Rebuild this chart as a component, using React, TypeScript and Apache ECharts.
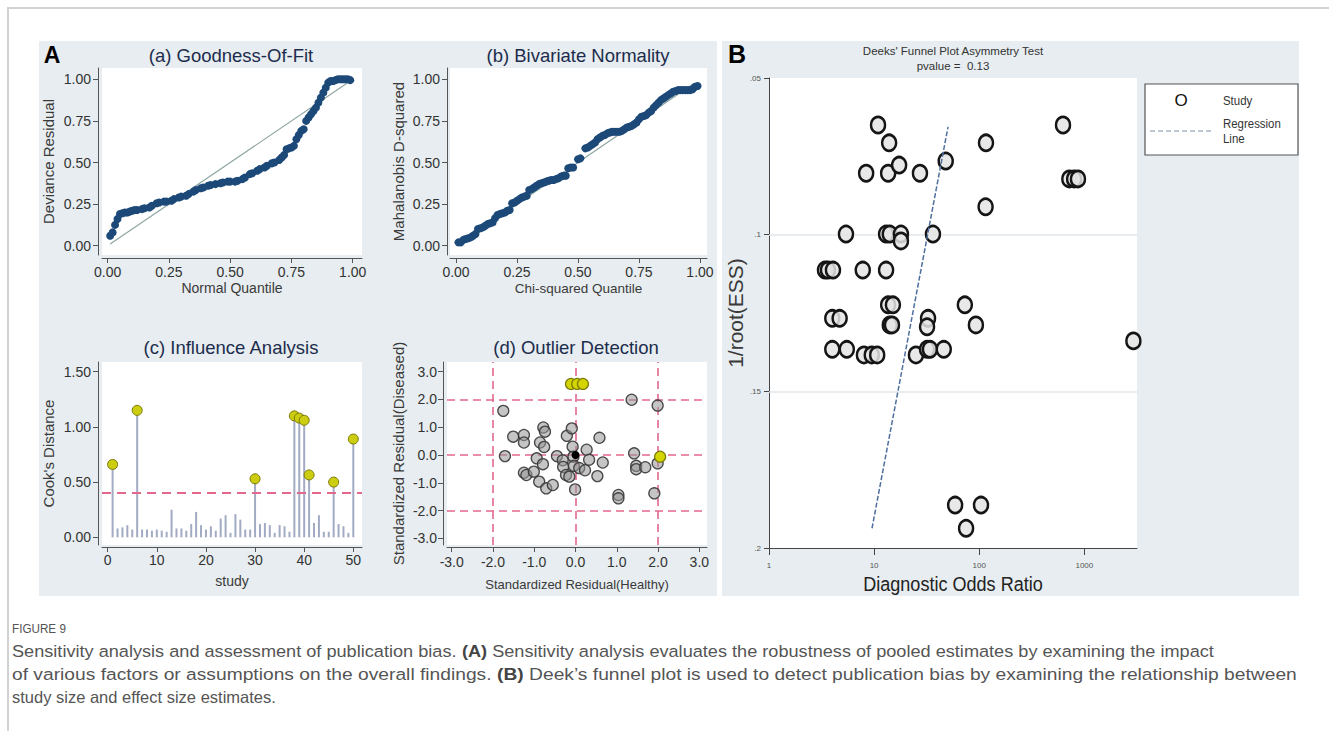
import React, { useEffect, useRef } from "react";
import * as echarts from "echarts";

// ---------- (a) Goodness-Of-Fit ----------
const gofQuantile = [0.01,0.02,0.03,0.04,0.05,0.06,0.07,0.08,0.09,0.10,0.11,0.12,
  0.14,0.15,0.17,0.18,0.20,0.21,0.23,0.24,0.26,0.27,0.29,0.30,0.32,0.33,0.35,0.36,0.38,0.39,0.41,0.42,0.44,
  0.46,0.47,0.49,0.50,0.52,0.53,0.55,0.56,0.58,0.59,0.61,0.62,0.64,0.65,0.67,0.68,0.70,
  0.71,0.72,0.73,0.74,0.75,0.76,0.77,0.78,0.79,0.80,0.81,0.82,0.83,0.84,0.85,0.86,0.87,0.88,0.89,0.90,0.91,0.92,0.93,0.94,0.95,0.96,0.97,0.98,0.99];
const gofResidual = [0.06,0.08,0.125,0.16,0.19,0.195,0.20,0.20,0.205,0.21,0.215,0.215,
  0.22,0.225,0.23,0.24,0.255,0.26,0.265,0.265,0.27,0.28,0.29,0.295,0.30,0.31,0.325,0.335,0.345,0.35,0.36,0.365,0.37,
  0.375,0.38,0.385,0.385,0.385,0.39,0.40,0.41,0.43,0.435,0.45,0.46,0.47,0.48,0.495,0.50,0.515,
  0.53,0.545,0.58,0.585,0.59,0.60,0.64,0.665,0.69,0.70,0.75,0.77,0.79,0.81,0.83,0.86,0.89,0.92,0.95,0.98,0.99,0.99,0.995,1.0,1.0,1.0,1.0,1.0,0.995];
const gofRefLine = [[0.01, 0.01], [0.99, 0.99]];

// ---------- (b) Bivariate Normality ----------
const chiQuantile = [0.01,0.02,0.03,0.04,0.05,0.06,0.07,0.08,0.09,0.10,0.11,0.12,0.13,0.14,0.15,0.16,0.17,0.18,0.19,0.20,
  0.21,0.22,0.23,0.24,0.25,0.26,0.27,0.28,0.29,0.30,0.31,0.32,0.33,0.34,0.35,0.36,0.37,0.38,0.39,0.40,
  0.41,0.42,0.43,0.44,0.45,0.46,0.47,0.48,0.50,0.51,0.53,0.54,0.55,0.56,0.57,0.58,0.59,0.60,0.61,0.62,
  0.63,0.64,0.65,0.66,0.67,0.68,0.69,0.70,0.71,0.72,0.73,0.74,0.75,0.76,0.77,0.78,0.79,0.80,0.81,0.82,
  0.83,0.84,0.85,0.86,0.87,0.88,0.89,0.90,0.91,0.92,0.93,0.94,0.95,0.96,0.97,0.98,0.99];
const mahalanobis = [0.02,0.02,0.035,0.04,0.045,0.05,0.06,0.07,0.10,0.105,0.11,0.12,0.13,0.135,0.14,0.165,0.185,0.19,0.195,0.20,
  0.21,0.215,0.255,0.26,0.27,0.28,0.29,0.295,0.30,0.335,0.34,0.35,0.36,0.37,0.375,0.38,0.385,0.39,0.395,0.395,
  0.40,0.405,0.415,0.42,0.42,0.465,0.47,0.47,0.52,0.525,0.585,0.59,0.60,0.61,0.62,0.64,0.65,0.66,0.665,0.675,
  0.68,0.685,0.685,0.685,0.685,0.69,0.70,0.71,0.715,0.72,0.73,0.74,0.76,0.775,0.78,0.785,0.80,0.81,0.83,0.845,
  0.86,0.875,0.885,0.895,0.905,0.915,0.925,0.93,0.935,0.935,0.935,0.935,0.935,0.935,0.94,0.955,0.96];
const bvnRefLine = [[0.0, 0.0], [0.97, 0.97]];

// ---------- (c) Influence Analysis ----------
const cooksDistance = [0.66,0.08,0.09,0.11,0.07,1.15,0.07,0.07,0.06,0.07,
  0.06,0.05,0.25,0.08,0.08,0.06,0.12,0.23,0.11,0.07,
  0.10,0.06,0.17,0.20,0.04,0.21,0.16,0.07,0.07,0.53,
  0.12,0.13,0.11,0.04,0.11,0.10,0.05,1.10,1.08,1.06,
  0.565,0.13,0.20,0.05,0.05,0.50,0.12,0.10,0.04,0.89];
const cooksThreshold = 0.4;

// ---------- (d) Outlier Detection ----------
const residHealthy = [-1.75,-1.71,-1.51,-1.25,-1.25,-1.25,-1.19,-1.01,-0.94,-0.86,
  -0.78,-0.74,-0.76,-0.79,-0.88,-0.71,-0.55,-0.45,-0.31,-0.30,
  -0.23,-0.15,-0.21,-0.09,-0.07,-0.05,-0.04,-0.01,0.09,0.23,
  0.27,0.33,0.58,0.66,0.53,1.04,1.04,1.36,1.42,1.47,
  1.47,1.69,1.91,1.99,1.99,-0.11,0.04,0.18,2.05];
const residDiseased = [1.59,-0.04,0.66,0.72,0.45,-0.64,-0.72,-0.60,-0.12,0.45,
  0.99,0.84,0.29,-0.33,-0.96,-1.20,-1.08,-0.04,-0.19,-0.43,
  -0.72,-0.78,0.69,0.96,0.30,-0.06,-0.39,-1.24,-0.47,-0.55,
  0.19,-0.17,0.62,-0.27,-0.76,-1.44,-1.56,1.99,0.06,-0.39,
  -0.51,-0.44,-1.38,1.78,-0.30,2.56,2.56,2.56,-0.06];
const summaryPoint = [0.0, 0.0];
const residCutoffs = [-2, 0, 2];

// ---------- B Deeks' funnel plot ----------
const diagnosticOddsRatio = [10.9,13.9,116,8.4,13.6,17.3,27.3,48,627,720,
  800,870,115,5.4,13.0,14.1,18.0,18.0,36.3,3.41,
  3.64,4.06,7.8,13.0,13.6,15.1,73,4.0,4.7,14.1,
  14.8,32.6,31.9,93,4.0,5.5,8.0,9.5,10.7,25,
  31.9,34.0,46,2930,59,104,75];
const invRootEss = [0.065,0.0707,0.0707,0.0804,0.0804,0.0778,0.0804,0.0765,0.065,0.0822,
  0.0822,0.0822,0.0911,0.0998,0.0998,0.0998,0.0998,0.102,0.0998,0.1113,
  0.1113,0.1113,0.1113,0.1113,0.1224,0.1224,0.1224,0.1267,0.1267,0.1288,
  0.1288,0.1267,0.1294,0.1288,0.1366,0.1366,0.1384,0.1384,0.1384,0.1384,
  0.1366,0.1366,0.1366,0.1339,0.1863,0.1863,0.1937];
const regressionDOR = [9.55, 50.5];
const regressionEss = [0.1937, 0.0656];
const deeksGridValues = [0.1, 0.15];

const ticks01 = [0, 0.25, 0.5, 0.75, 1];
const ticksCook = [0, 0.5, 1, 1.5];
const ticksStudy = [0, 10, 20, 30, 40, 50];
const ticksResid = [-3, -2, -1, 0, 1, 2, 3];
const ticksDOR = [1, 10, 100, 1000];
const ticksEss = [0.05, 0.1, 0.15, 0.2];

const FONT = "'Liberation Sans', Arial, Helvetica, sans-serif";
const AXIS_COLOR = "#555";

function valAxis(o: any) {
  return {
    type: o.type || "value",
    gridIndex: o.grid,
    min: o.min,
    max: o.max,
    inverse: !!o.inverse,
    offset: o.offset || 0,
    splitLine: { show: false },
    axisLine: { show: true, onZero: false, lineStyle: { color: o.lineColor || AXIS_COLOR, width: 1 } },
    axisTick: { show: true, inside: false, length: o.tickLen || 5, customValues: o.ticks, lineStyle: { color: o.lineColor || AXIS_COLOR } },
    axisLabel: {
      show: true,
      customValues: o.ticks,
      formatter: o.fmt,
      margin: o.margin ?? 7,
      fontSize: o.labelSize || 14,
      color: o.labelColor || "#333",
      fontFamily: FONT,
    },
    name: o.name,
    nameLocation: "middle",
    nameGap: o.nameGap,
    nameTextStyle: { fontSize: o.nameSize || 14, color: "#3a3a3a", fontFamily: FONT },
  };
}

function gridBox(left: number, top: number, width: number, height: number) {
  return { left, top, width, height, show: true, backgroundColor: "#ffffff", borderWidth: 0, containLabel: false, outerBoundsMode: "none" };
}

function txt(text: string, x: number, y: number, size: number, opts: any = {}) {
  const align = opts.align || "center";
  const valign = opts.valign || "middle";
  return {
    type: "text",
    x, y,
    scaleX: opts.scaleX || 1,
    silent: true,
    style: {
      text,
      fill: opts.color || "#1c2c4c",
      fontSize: size,
      fontFamily: FONT,
      fontWeight: opts.weight || "normal",
      align, verticalAlign: valign,
      textAlign: align, textVerticalAlign: valign,
      rich: opts.rich,
    },
  };
}

const f2 = (v: number) => v.toFixed(2);
const f1 = (v: number) => v.toFixed(1);
const fDot = (v: number) => String(v).replace(/^0\./, ".");

const pinkDash = { color: "#e2688c", type: [8, 5], width: 1.6 };

function buildOption() {
  const gofPts = gofQuantile.map((x, i) => [x, gofResidual[i]]);
  const bvnPts = chiQuantile.map((x, i) => [x, mahalanobis[i]]);
  const cookBars = cooksDistance.map((v, i) => [i + 1, v]);
  const cookHigh = cooksDistance.map((v, i) => [i + 1, v]).filter((p) => p[1] > cooksThreshold);
  const outPts = residHealthy.map((x, i) => [x, residDiseased[i]]);
  const outNormal = outPts.filter((p) => Math.abs(p[0]) <= 2 && Math.abs(p[1]) <= 2);
  const outFlag = outPts.filter((p) => Math.abs(p[0]) > 2 || Math.abs(p[1]) > 2);
  const deeksPts = diagnosticOddsRatio.map((x, i) => [x, invRootEss[i]]);
  const regPts = regressionDOR.map((x, i) => [x, regressionEss[i]]);

  const captionRich = { b: { fontWeight: "bold", fontSize: 16.5, fontFamily: FONT, fill: "#444" } };
  const cap = (s: number) => ({ align: "left", color: "#555", rich: captionRich, scaleX: s });

  return {
    animation: false,
    backgroundColor: "transparent",
    grid: [
      gridBox(102, 68, 260, 187),
      gridBox(450, 68, 257, 187),
      gridBox(102, 362, 260, 183),
      gridBox(447, 362, 260, 183),
      gridBox(769, 78, 368, 470),
    ],
    xAxis: [
      valAxis({ grid: 0, min: -0.0233, max: 1.0379, offset: 3, ticks: ticks01, fmt: f2, margin: 7, name: "Normal Quantile", nameGap: 23 }),
      valAxis({ grid: 1, min: -0.0246, max: 1.0287, offset: 3, ticks: ticks01, fmt: f2, margin: 7, name: "Chi-squared Quantile", nameGap: 23, nameSize: 13.5 }),
      valAxis({ grid: 2, min: -1.16, max: 51.77, offset: 2, ticks: ticksStudy, fmt: (v: number) => String(v), margin: 6, name: "study", nameGap: 27 }),
      valAxis({ grid: 3, min: -3.114, max: 3.186, offset: 2, ticks: ticksResid, fmt: f1, margin: 8, name: "Standardized Residual(Healthy)", nameGap: 31, nameSize: 13 }),
      valAxis({ grid: 4, type: "log", min: 1, max: 3171, ticks: ticksDOR, fmt: (v: number) => String(Math.round(v)), margin: 13, tickLen: 7, labelSize: 8, labelColor: "#555", lineColor: "#444" }),
    ],
    yAxis: [
      valAxis({ grid: 0, min: -0.0559, max: 1.068, offset: 4, ticks: ticks01, fmt: f2, name: "Deviance Residual", nameGap: 42, nameSize: 15 }),
      valAxis({ grid: 1, min: -0.0559, max: 1.068, offset: 3, ticks: ticks01, fmt: f2, name: "Mahalanobis D-squared", nameGap: 41, nameSize: 15 }),
      valAxis({ grid: 2, min: -0.0697, max: 1.588, offset: 4, ticks: ticksCook, fmt: f2, name: "Cook's Distance", nameGap: 42, nameSize: 15 }),
      valAxis({ grid: 3, min: -3.241, max: 3.349, offset: 4, ticks: ticksResid, fmt: f1, margin: 6, name: "Standardized Residual(Diseased)", nameGap: 37, nameSize: 15 }),
      valAxis({ grid: 4, min: 0.05, max: 0.2, inverse: true, ticks: ticksEss, fmt: fDot, margin: 8, tickLen: 5, labelSize: 8, labelColor: "#555", lineColor: "#444", name: "1/root(ESS)", nameGap: 22, nameSize: 21 }),
    ],
    series: [
      { type: "line", xAxisIndex: 0, yAxisIndex: 0, data: gofRefLine, symbol: "none", lineStyle: { color: "#8ea6a3", width: 1.2 }, z: 1, silent: true },
      { type: "scatter", xAxisIndex: 0, yAxisIndex: 0, data: gofPts, symbolSize: 8, itemStyle: { color: "#1c4978", opacity: 1 }, z: 2 },
      { type: "line", xAxisIndex: 1, yAxisIndex: 1, data: bvnRefLine, symbol: "none", lineStyle: { color: "#8ea6a3", width: 1.2 }, z: 1, silent: true },
      { type: "scatter", xAxisIndex: 1, yAxisIndex: 1, data: bvnPts, symbolSize: 8, itemStyle: { color: "#1c4978", opacity: 1 }, z: 2 },
      {
        type: "bar", xAxisIndex: 2, yAxisIndex: 2, data: cookBars, barWidth: 2, itemStyle: { color: "#a2abc3" }, z: 1,
        markLine: { silent: true, symbol: "none", z: 3, label: { show: false }, lineStyle: { color: "#e2688c", type: [9, 6], width: 2.2 }, data: [{ yAxis: cooksThreshold }] },
      },
      { type: "scatter", xAxisIndex: 2, yAxisIndex: 2, data: cookHigh, symbolSize: 10, itemStyle: { color: "#cccc10", borderColor: "#7a7a08", borderWidth: 1, opacity: 1 }, z: 4 },
      {
        type: "scatter", xAxisIndex: 3, yAxisIndex: 3, data: outNormal, symbolSize: 11,
        itemStyle: { color: "rgba(150,150,150,0.55)", borderColor: "rgba(55,55,55,0.9)", borderWidth: 1.3, opacity: 1 }, z: 3,
        markLine: {
          silent: true, symbol: "none", z: 1, label: { show: false }, lineStyle: pinkDash,
          data: residCutoffs.map((v) => ({ xAxis: v })).concat(residCutoffs.map((v) => ({ yAxis: v })) as any),
        },
      },
      { type: "scatter", xAxisIndex: 3, yAxisIndex: 3, data: [summaryPoint], symbolSize: 8, itemStyle: { color: "#000", opacity: 1 }, z: 4 },
      { type: "scatter", xAxisIndex: 3, yAxisIndex: 3, data: outFlag, symbolSize: 11, itemStyle: { color: "#d4d400", borderColor: "#7a7a08", borderWidth: 1.2, opacity: 1 }, z: 4 },
      {
        type: "scatter", xAxisIndex: 4, yAxisIndex: 4, data: deeksPts, symbol: "circle", symbolSize: [14, 16],
        itemStyle: { color: "rgba(228,228,228,0.85)", borderColor: "#151515", borderWidth: 2.6, opacity: 1 }, z: 3,
        markLine: { silent: true, symbol: "none", z: 1, label: { show: false }, lineStyle: { color: "#e3e7ea", type: "solid", width: 1.5 }, data: deeksGridValues.map((v) => ({ yAxis: v })) },
      },
      { type: "line", xAxisIndex: 4, yAxisIndex: 4, data: regPts, symbol: "none", lineStyle: { color: "#4f6f9f", type: [5, 2], width: 1.5 }, z: 4, silent: true },
    ],
    graphic: [
      txt("A", 52, 55, 23, { weight: "bold", color: "#000" }),
      txt("B", 737, 54, 25, { weight: "bold", color: "#000" }),
      txt("(a) Goodness-Of-Fit", 231, 55, 18.5),
      txt("(b) Bivariate Normality", 578, 55, 18.5),
      txt("(c) Influence Analysis", 231, 347, 18.5),
      txt("(d) Outlier Detection", 576, 347, 18.5),
      txt("Deeks' Funnel Plot Asymmetry Test", 953, 51, 11.5, { color: "#333" }),
      txt("pvalue =  0.13", 953, 66, 11.5, { color: "#333" }),
      txt("Diagnostic Odds Ratio", 953, 583, 21, { color: "#222", scaleX: 0.86 }),
      // legend box of B
      { type: "rect", silent: true, shape: { x: 1145, y: 84, width: 153, height: 71 }, style: { fill: "#ffffff", stroke: "#555", lineWidth: 1.2 } },
      txt("O", 1181, 100, 17, { color: "#111" }),
      txt("Study", 1223, 101, 13, { align: "left", color: "#333", scaleX: 0.88 }),
      { type: "line", silent: true, shape: { x1: 1150, y1: 131, x2: 1213, y2: 131 }, style: { stroke: "#7d8fa8", lineDash: [5, 3], lineWidth: 1.2 } },
      txt("Regression", 1223, 124, 13, { align: "left", color: "#333", scaleX: 0.88 }),
      txt("Line", 1223, 139, 13, { align: "left", color: "#333", scaleX: 0.88 }),
      // caption
      txt("FIGURE 9", 12, 629, 13, { align: "left", color: "#555", scaleX: 0.9 }),
      txt("Sensitivity analysis and assessment of publication bias. {b|(A)} Sensitivity analysis evaluates the robustness of pooled estimates by examining the impact", 12, 651, 16.5, cap(1.1)),
      txt("of various factors or assumptions on the overall findings. {b|(B)} Deek\u2019s funnel plot is used to detect publication bias by examining the relationship between", 12, 674, 16.5, cap(1.165)),
      txt("study size and effect size estimates.", 12, 697, 16.5, cap(1.0)),
    ],
  };
}

export default function App() {
  const ref = useRef<HTMLDivElement>(null);
  useEffect(() => {
    if (!ref.current) return;
    const chart = echarts.init(ref.current, null, { renderer: "svg" });
    chart.setOption(buildOption() as any);
    return () => chart.dispose();
  }, []);
  const bg = "#e7edf0";
  return (
    <div style={{ position: "absolute", left: 0, top: 0, width: 1329, height: 731, background: "#fff", overflow: "hidden" }}>
      <div style={{ position: "absolute", left: 7, top: 7, width: 1322, height: 1.5, background: "#d2d2d2" }} />
      <div style={{ position: "absolute", left: 7, top: 7, width: 1.5, height: 724, background: "#d2d2d2" }} />
      <div style={{ position: "absolute", left: 39, top: 41, width: 678, height: 555, background: bg }} />
      <div style={{ position: "absolute", left: 722, top: 41, width: 577, height: 555, background: bg }} />
      <div ref={ref} style={{ position: "absolute", left: 0, top: 0, width: 1329, height: 731 }} />
    </div>
  );
}
